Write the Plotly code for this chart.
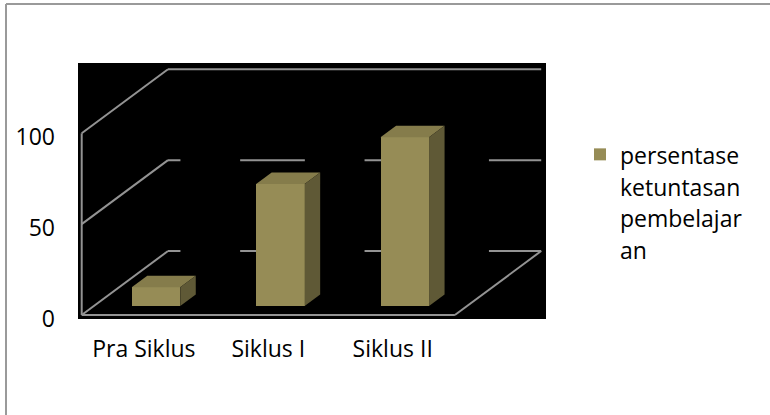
import plotly.graph_objects as go

# ---- data ----
categories = ["Pra Siklus", "Siklus I", "Siklus II"]
values = [10.3, 67.2, 92.9]
series_name = "persentase<br>ketuntasan<br>pembelajar<br>an"
y_ticks = [0, 50, 100]

# ---- style / geometry (3D look) ----
W, H = 770, 415
ML, MR, MT, MB = 78, 224, 63, 96
KX, KY = 0.6937, 35.22          # depth projection (axis units per full depth)
D0, DB = 0.14, 0.18             # bar front depth, bar depth
HALF = 0.195                    # half bar width
BAR_FRONT = "#968c56"
BAR_TOP = "#857c4b"
BAR_SIDE = "#5f5936"
GRID = "#939393"
FONT = "Open Sans"

n = len(categories)
x_lo, x_hi = -0.5, n - 0.5


def proj(xw, d, y):
    return xw + KX * d, y + KY * d


fig = go.Figure()

# front faces of the columns
yoff = KY * D0
fig.add_trace(go.Bar(
    x=[i + KX * D0 for i in range(n)], y=values, base=yoff, width=2 * HALF,
    marker=dict(color=BAR_FRONT, line=dict(width=0)),
    name=series_name, showlegend=True, hoverinfo="y",
))

# top and side faces
for i, v in enumerate(values):
    xl, ytop = proj(i - HALF, D0, v)
    xr, _ = proj(i + HALF, D0, v)
    ybase = yoff
    dx, dy = KX * DB, KY * DB
    fig.add_trace(go.Scatter(
        x=[xl, xr, xr + dx, xl + dx, xl], y=[ytop, ytop, ytop + dy, ytop + dy, ytop],
        mode="lines", fill="toself", fillcolor=BAR_TOP, line=dict(width=0),
        showlegend=False, hoverinfo="skip"))
    fig.add_trace(go.Scatter(
        x=[xr, xr + dx, xr + dx, xr, xr], y=[ybase, ybase + dy, ytop + dy, ytop, ybase],
        mode="lines", fill="toself", fillcolor=BAR_SIDE, line=dict(width=0),
        showlegend=False, hoverinfo="skip"))

shapes = []


def seg(p, q):
    shapes.append(dict(type="line", xref="x", yref="y", layer="below",
                       x0=p[0], y0=p[1], x1=q[0], y1=q[1],
                       line=dict(color=GRID, width=2)))


# floor edges
seg(proj(x_lo, 0, 0), proj(x_hi, 0, 0))
seg(proj(x_hi, 0, 0), proj(x_hi, 1, 0))
# left wall
seg(proj(x_lo, 0, 0), proj(x_lo, 0, y_ticks[-1]))
for t in y_ticks:
    seg(proj(x_lo, 0, t), proj(x_lo, 1, t))
    seg(proj(x_lo, 1, t), proj(x_hi, 1, t))

# dark shadows of the columns on the back wall
for i in range(n):
    a = proj(i - 0.40, 1, -3)
    b = proj(i + 0.08, 1, -3)
    c = proj(i + 0.08, 1, 75)
    d = proj(i - 0.40, 1, 75)
    shapes.append(dict(type="path", xref="x", yref="y", layer="below",
                       path=f"M{a[0]},{a[1]}L{b[0]},{b[1]}L{c[0]},{c[1]}L{d[0]},{d[1]}Z",
                       fillcolor="#000000", line=dict(width=0)))

# outer chart border (top and left)
pw, ph = W - ML - MR, H - MT - MB
bx = (6 - ML) / pw
by = (H - MB - 4) / ph
shapes.append(dict(type="line", xref="paper", yref="paper", x0=bx, y0=by, x1=(W - ML) / pw, y1=by,
                   line=dict(color="#9a9a9a", width=2)))
shapes.append(dict(type="line", xref="paper", yref="paper", x0=bx, y0=by, x1=bx, y1=-MB / ph,
                   line=dict(color="#9a9a9a", width=2)))

legend_text_size = 23
fig.update_layout(
    width=W, height=H,
    margin=dict(l=ML, r=MR, t=MT, b=MB, pad=0),
    paper_bgcolor="white", plot_bgcolor="black",
    font=dict(family=FONT, size=23, color="black"),
    shapes=shapes,
    showlegend=True,
    legend=dict(x=(580 - ML) / pw, xanchor="left", y=(H - MB - 132) / ph, yanchor="top",
                valign="top", bgcolor="rgba(0,0,0,0)", borderwidth=0,
                font=dict(family=FONT, size=24.4, color="black")),
    xaxis=dict(range=[(78 - 143.9) / 124.4, (546 - 143.9) / 124.4], tickvals=list(range(n)),
               ticktext=categories, showgrid=False, zeroline=False, showline=False,
               ticks="", ticklabelstandoff=14, fixedrange=True),
    yaxis=dict(range=[-4 / 1.817, 252 / 1.817], tickvals=y_ticks,
               showgrid=False, zeroline=False, showline=False,
               ticks="", ticklabelstandoff=22, ticklabelshift=4, fixedrange=True),
    bargap=0,
)

# legend lines in smaller font while keeping the larger line spacing
fig.data[0].name = "<br>".join(
    f'<span style="font-size:{legend_text_size}px">{s}</span>' for s in series_name.split("<br>"))

fig.write_html("out.html", config={"displayModeBar": False},
               post_script="document.body.style.margin='0';")
